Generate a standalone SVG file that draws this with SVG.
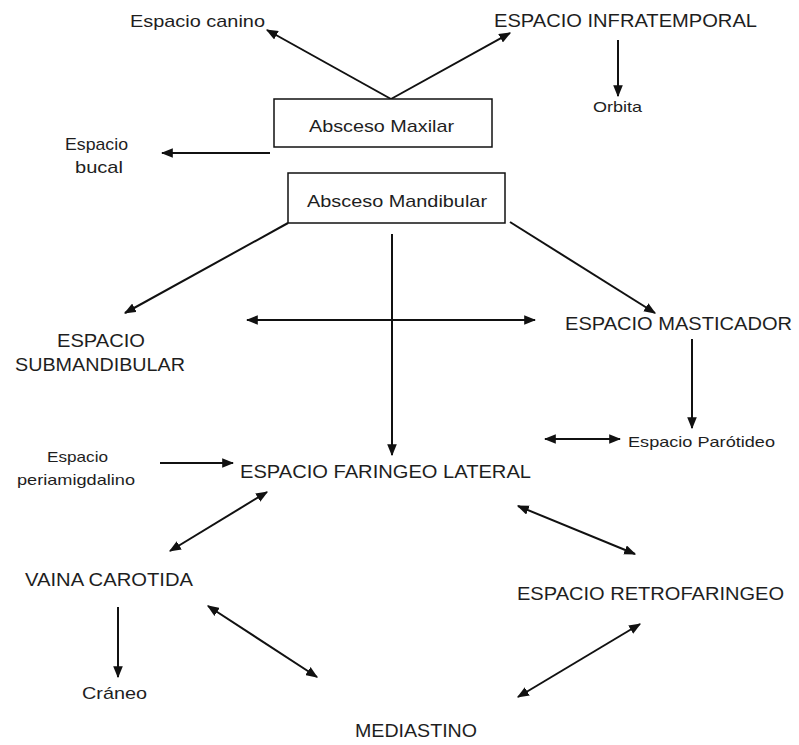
<svg xmlns="http://www.w3.org/2000/svg" width="799" height="745" viewBox="0 0 799 745">
<style>
  text { font-family: "Liberation Sans", Arial, sans-serif; fill: #1e1e1e; }
  .up { font-size: 19px; }
  .lo { font-size: 17px; }
  .sm { font-size: 15px; }
  .box { fill: #fff; stroke: #111; stroke-width: 1.5; }
  .c line { stroke: #111; stroke-width: 2; fill: none; }
  .a { marker-end: url(#ah); }
  .d { marker-start: url(#ah); marker-end: url(#ah); }
</style>
<defs>
  <marker id="ah" viewBox="0 0 10 8" refX="9" refY="4" markerWidth="12" markerHeight="10" markerUnits="userSpaceOnUse" orient="auto-start-reverse">
    <path d="M0,0 L10,4 L0,8 z" fill="#111"/>
  </marker>
</defs>
<rect width="799" height="745" fill="#fff"/>

<g id="connectors" class="c">
  <line class="a" x1="391" y1="99" x2="267" y2="30"/>
  <line class="a" x1="391" y1="99" x2="510" y2="33"/>
  <line class="a" x1="618" y1="40" x2="618" y2="96"/>
  <line class="a" x1="270" y1="153" x2="162" y2="153"/>
  <line class="a" x1="288" y1="223" x2="125" y2="313"/>
  <line class="a" x1="510" y1="222" x2="655" y2="313"/>
  <line class="a" x1="392" y1="234" x2="392" y2="455"/>
  <line class="d" x1="247" y1="320" x2="535" y2="320"/>
  <line class="a" x1="692" y1="339" x2="692" y2="428"/>
  <line class="d" x1="545" y1="439" x2="620" y2="439"/>
  <line class="a" x1="160" y1="463" x2="233" y2="463"/>
  <line class="d" x1="267" y1="492" x2="170" y2="551"/>
  <line class="a" x1="118" y1="607" x2="118" y2="677"/>
  <line class="d" x1="208" y1="606" x2="317" y2="677"/>
  <line class="d" x1="518" y1="506" x2="635" y2="554"/>
  <line class="d" x1="640" y1="624" x2="518" y2="697"/>
</g>

<g id="espacio-canino"><text class="lo" x="130" y="27" textLength="135" lengthAdjust="spacingAndGlyphs">Espacio canino</text></g>
<g id="espacio-infratemporal"><text class="up" x="494" y="27" textLength="263" lengthAdjust="spacingAndGlyphs">ESPACIO INFRATEMPORAL</text></g>
<g id="orbita"><text class="sm" x="593" y="112" textLength="49" lengthAdjust="spacingAndGlyphs">Orbita</text></g>
<g id="absceso-maxilar">
  <rect class="box" x="274" y="99" width="218" height="48"/>
  <text class="lo" x="309" y="132" textLength="145" lengthAdjust="spacingAndGlyphs">Absceso Maxilar</text>
</g>
<g id="espacio-bucal">
  <text class="lo" x="65" y="150" textLength="63" lengthAdjust="spacingAndGlyphs">Espacio</text>
  <text class="lo" x="75" y="173" textLength="48" lengthAdjust="spacingAndGlyphs">bucal</text>
</g>
<g id="absceso-mandibular">
  <rect class="box" x="288" y="173" width="217" height="50"/>
  <text class="lo" x="307" y="207" textLength="180" lengthAdjust="spacingAndGlyphs">Absceso Mandibular</text>
</g>
<g id="espacio-submandibular">
  <text class="up" x="57" y="347" textLength="88" lengthAdjust="spacingAndGlyphs">ESPACIO</text>
  <text class="up" x="15" y="371" textLength="170" lengthAdjust="spacingAndGlyphs">SUBMANDIBULAR</text>
</g>
<g id="espacio-masticador"><text class="up" x="565" y="330" textLength="227" lengthAdjust="spacingAndGlyphs">ESPACIO MASTICADOR</text></g>
<g id="espacio-parotideo"><text class="sm" x="628" y="447" textLength="147" lengthAdjust="spacingAndGlyphs">Espacio Parótideo</text></g>
<g id="espacio-periamigdalino">
  <text class="sm" x="47" y="462" textLength="61" lengthAdjust="spacingAndGlyphs">Espacio</text>
  <text class="sm" x="17" y="485" textLength="118" lengthAdjust="spacingAndGlyphs">periamigdalino</text>
</g>
<g id="espacio-faringeo-lateral"><text class="up" x="240" y="478" textLength="291" lengthAdjust="spacingAndGlyphs">ESPACIO FARINGEO LATERAL</text></g>
<g id="vaina-carotida"><text class="up" x="25" y="586" textLength="168" lengthAdjust="spacingAndGlyphs">VAINA CAROTIDA</text></g>
<g id="craneo"><text class="lo" x="82" y="699" textLength="65" lengthAdjust="spacingAndGlyphs">Cráneo</text></g>
<g id="espacio-retrofaringeo"><text class="up" x="517" y="600" textLength="267" lengthAdjust="spacingAndGlyphs">ESPACIO RETROFARINGEO</text></g>
<g id="mediastino"><text class="up" x="355" y="737" textLength="122" lengthAdjust="spacingAndGlyphs">MEDIASTINO</text></g>
</svg>
